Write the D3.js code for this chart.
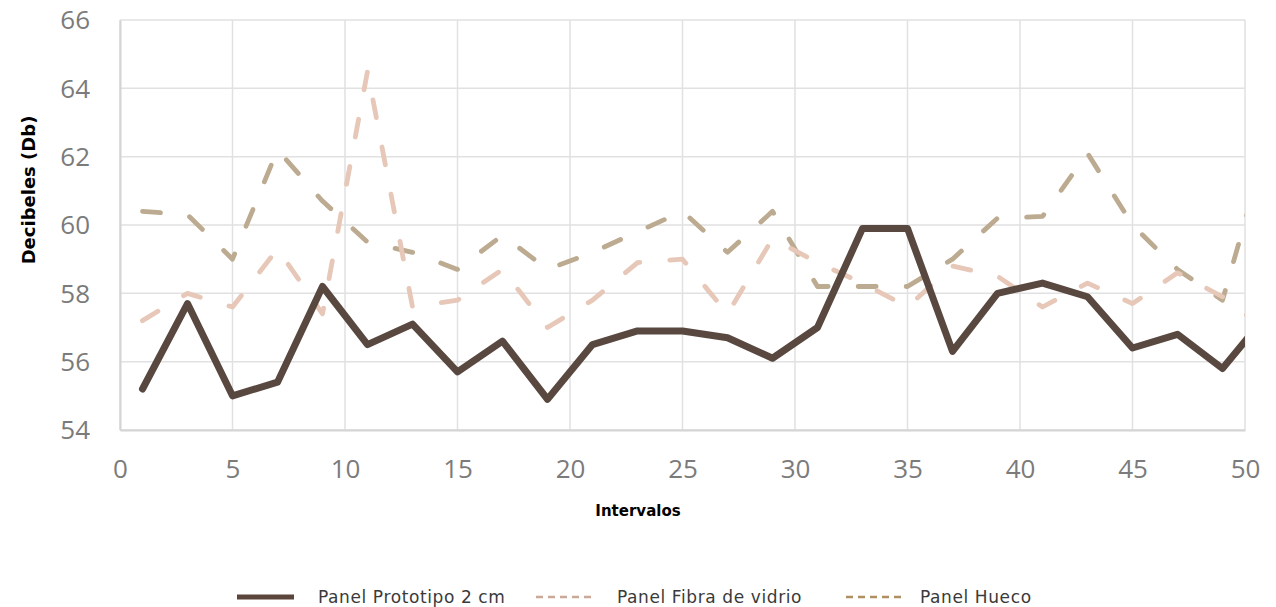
<!DOCTYPE html>
<html>
<head>
<meta charset="utf-8">
<script src="https://cdn.jsdelivr.net/npm/d3@7"></script>
<style>
  body { margin: 0; background: #fff; }
</style>
</head>
<body>
<div id="my_dataviz"></div>
<script>
// intervals (last one sits past the axis end and gets clipped, like the original)
var intervals = [1, 3, 5, 7, 9, 11, 13, 15, 17, 19, 21, 23, 25, 27, 29, 31, 33, 35, 37, 39, 41, 43, 45, 47, 49, 51];

var prototipo = [55.2, 57.7, 55.0, 55.4, 58.2, 56.5, 57.1, 55.7, 56.6, 54.9, 56.5, 56.9, 56.9,
                 56.7, 56.1, 57.0, 59.9, 59.9, 56.3, 58.0, 58.3, 57.9, 56.4, 56.8, 55.8, 57.4];
var fibra = [57.2, 58.0, 57.6, 59.3, 57.4, 64.5, 57.6, 57.8, 58.7, 57.0, 57.8, 58.9, 59.0,
             57.4, 59.6, 58.9, 58.3, 57.6, 58.8, 58.5, 57.6, 58.3, 57.7, 58.6, 57.9, 56.9];
var hueco = [60.4, 60.3, 59.0, 62.2, 60.7, 59.5, 59.2, 58.7, 59.7, 58.7, 59.2, 59.8, 60.4,
             59.2, 60.4, 58.2, 58.2, 58.2, 59.0, 60.2, 60.25, 62.1, 60.0, 58.7, 57.8, 62.4];

var seriesNames = ["Panel Prototipo 2 cm", "Panel Fibra de vidrio", "Panel Hueco"];
var xTicks = [0, 5, 10, 15, 20, 25, 30, 35, 40, 45, 50];
var yTicks = [54, 56, 58, 60, 62, 64, 66];

// margin, width, height
var margin = {top: 20, right: 31, bottom: 177, left: 120},
    width = 1276 - margin.left - margin.right,
    height = 607 - margin.top - margin.bottom;

var svg = d3.select("#my_dataviz")
  .append("svg")
  .attr("width", 1276)
  .attr("height", 607)
  .style("display", "block");

var g = svg.append("g")
  .attr("transform", "translate(" + margin.left + "," + margin.top + ")");

// scales
var x = d3.scaleLinear().domain([0, 50]).range([0, width]);
var y = d3.scaleLinear().domain([54, 66]).range([height, 0]);

// grid
g.selectAll(".hgrid")
  .data(yTicks)
  .enter()
  .append("line")
  .attr("x1", 0)
  .attr("x2", width)
  .attr("y1", d => y(d))
  .attr("y2", d => y(d))
  .attr("stroke", "#e1e1e1")
  .attr("stroke-width", 1.5);

g.selectAll(".vgrid")
  .data(xTicks)
  .enter()
  .append("line")
  .attr("x1", d => x(d))
  .attr("x2", d => x(d))
  .attr("y1", 0)
  .attr("y2", height)
  .attr("stroke", "#e1e1e1")
  .attr("stroke-width", 1.5);

// axes
var yAxis = g.append("g")
  .call(d3.axisLeft(y).tickValues(yTicks).tickSize(0).tickPadding(30));
var xAxis = g.append("g")
  .attr("transform", "translate(0," + height + ")")
  .call(d3.axisBottom(x).tickValues(xTicks).tickSize(0).tickPadding(30));

[xAxis, yAxis].forEach(function(a) {
  a.select(".domain").attr("stroke", "#d4d4d4").attr("stroke-width", 2);
  a.selectAll("text")
    .style("font-family", "'Open Sans', sans-serif")
    .style("font-weight", 400)
    .style("font-size", "26px")
    .attr("fill", "#7b7b7b");
});
yAxis.selectAll("text").attr("dy", "0.34em");
xAxis.selectAll("text").attr("dy", "0.71em");

// axis titles
svg.append("text")
  .attr("transform", "translate(35,190) rotate(-90)")
  .attr("text-anchor", "middle")
  .style("font-family", "'DejaVu Sans', sans-serif")
  .style("font-weight", "bold")
  .style("font-size", "18px")
  .text("Decibeles (Db)");

svg.append("text")
  .attr("x", 638)
  .attr("y", 516)
  .attr("text-anchor", "middle")
  .style("font-family", "'DejaVu Sans', sans-serif")
  .style("font-weight", "bold")
  .style("font-size", "15px")
  .text("Intervalos");

// clip lines to the plot area
svg.append("defs").append("clipPath")
  .attr("id", "plotclip")
  .append("rect")
  .attr("x", -10)
  .attr("y", -10)
  .attr("width", width + 10)
  .attr("height", height + 20);

var line = d3.line()
  .x(d => x(d[0]))
  .y(d => y(d[1]));

var series = [
  {vals: hueco, color: "#bcab90", w: 4.8, dash: "18,30"},
  {vals: fibra, color: "#e6c7b8", w: 4.8, dash: "18,30"},
  {vals: prototipo, color: "#594840", w: 7, dash: null}
];

var lines = g.append("g").attr("clip-path", "url(#plotclip)");
series.forEach(function(s) {
  lines.append("path")
    .datum(intervals.map((t, i) => [t, s.vals[i]]))
    .attr("d", line)
    .attr("fill", "none")
    .attr("stroke", s.color)
    .attr("stroke-width", s.w)
    .attr("stroke-linejoin", "round")
    .attr("stroke-linecap", "round")
    .attr("stroke-dasharray", s.dash);
});

// legend
var legend = [
  {x: 237, tx: 318, color: "#5b443a", w: 5, dash: null},
  {x: 536, tx: 617, color: "#caa999", w: 2.5, dash: "7,5"},
  {x: 846, tx: 920, color: "#ae9163", w: 2.5, dash: "7,5"}
];
legend.forEach(function(l, i) {
  svg.append("line")
    .attr("x1", l.x)
    .attr("x2", l.x + 57)
    .attr("y1", 597)
    .attr("y2", 597)
    .attr("stroke", l.color)
    .attr("stroke-width", l.w)
    .attr("stroke-dasharray", l.dash);
  svg.append("text")
    .attr("x", l.tx)
    .attr("y", 603)
    .style("font-family", "'DejaVu Sans', sans-serif")
    .style("font-size", "17px")
    .style("letter-spacing", "0.6px")
    .attr("fill", "#3a3a3a")
    .text(seriesNames[i]);
});
</script>
</body>
</html>
